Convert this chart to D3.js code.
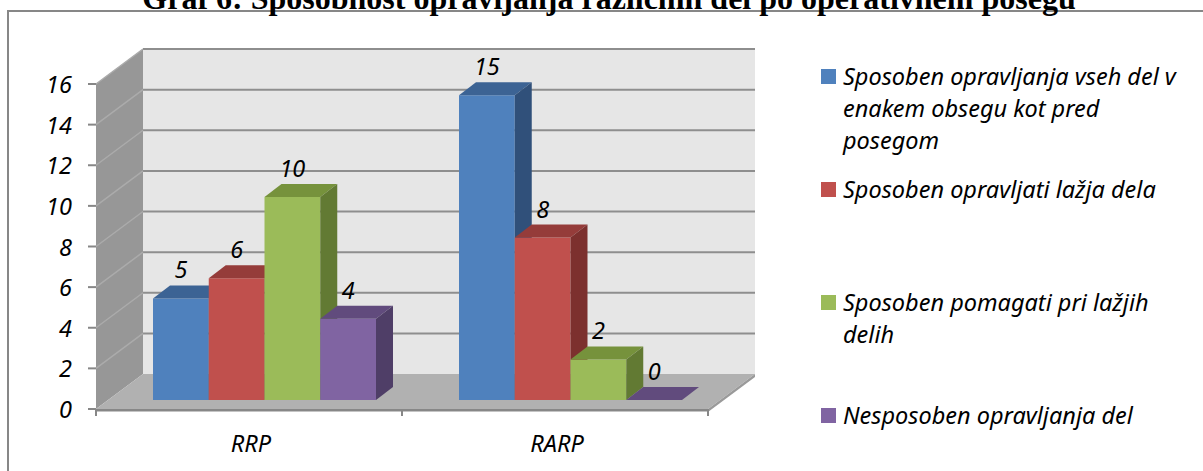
<!DOCTYPE html>
<html>
<head>
<meta charset="utf-8">
<script src="https://cdn.jsdelivr.net/npm/d3@7"></script>
<style>
  html, body { margin: 0; padding: 0; background: #fff; overflow: hidden; }
  svg { display: block; }
  .lbl { font-family: "Noto Sans", "Open Sans", sans-serif; font-style: italic; fill: #000; }
</style>
</head>
<body>
<svg id="chart" width="1203" height="471"></svg>
<script>
// Chart content
const title = "Graf 6: Sposobnost opravljanja različnih del po operativnem posegu";
const categories = ["RRP", "RARP"];
const seriesNames = [
  "Sposoben opravljanja vseh del v enakem obsegu kot pred posegom",
  "Sposoben opravljati lažja dela",
  "Sposoben pomagati pri lažjih delih",
  "Nesposoben opravljanja del"
];
const valuesRRP = [5, 6, 10, 4];
const valuesRARP = [15, 8, 2, 0];
const yTicks = [0, 2, 4, 6, 8, 10, 12, 14, 16];

// Face colours per series: front, top, side
const frontColors = ["#4f81bd", "#c0504d", "#9bbb59", "#8064a2"];
const topColors   = ["#3c6394", "#953c3a", "#76923c", "#614b7d"];
const sideColors  = ["#30507a", "#7c302e", "#627a33", "#4f3e67"];

const svg = d3.select("#chart");
const fontSize = 23.5;

// Outer frame of the chart object
svg.append("rect")
  .attr("x", 8).attr("y", 11).attr("width", 1300).attr("height", 600)
  .attr("fill", "#fff").attr("stroke", "#878787").attr("stroke-width", 2);

// Title (sits just above the frame)
svg.append("text")
  .attr("x", 609).attr("y", 9)
  .attr("text-anchor", "middle")
  .attr("font-family", "'Times New Roman', 'Liberation Serif', serif")
  .attr("font-weight", "bold")
  .attr("font-size", 32)
  .text(title);

// 3D plot geometry
const left = 96, right = 708;
const wallDx = 47, wallDy = -35;    // depth of the floor / side wall
const y = d3.scaleLinear().domain([0, 16]).range([409, 84]);
const x0 = d3.scaleBand().domain(categories).range([left, right]);
const x1 = d3.scaleBand().domain(seriesNames).range([0, 223]);
const groupOffset = 57;             // front face of the first bar inside a category band
const barShiftY = -9;               // bars stand slightly behind the floor's front edge
const barDx = 17, barDy = -13;      // bar depth

const pts = a => a.map(p => p.join(",")).join(" ");

// Back wall
svg.append("polygon")
  .attr("points", pts([[left + wallDx, y(0) + wallDy], [right + wallDx, y(0) + wallDy],
                        [right + wallDx, y(16) + wallDy], [left + wallDx, y(16) + wallDy]]))
  .attr("fill", "#e6e6e6");
// Side wall
svg.append("polygon")
  .attr("points", pts([[left, y(0)], [left + wallDx, y(0) + wallDy],
                        [left + wallDx, y(16) + wallDy], [left, y(16)]]))
  .attr("fill", "#979797");

// Gridlines on the back and side walls
yTicks.filter(t => t > 0).forEach(t => {
  svg.append("line")
    .attr("x1", left + wallDx).attr("x2", right + wallDx)
    .attr("y1", y(t) + wallDy).attr("y2", y(t) + wallDy)
    .attr("stroke", "#8e8e8e").attr("stroke-width", 2);
  svg.append("line")
    .attr("x1", left).attr("x2", left + wallDx)
    .attr("y1", y(t)).attr("y2", y(t) + wallDy)
    .attr("stroke", "#ababab").attr("stroke-width", 1.5);
});

// Floor
svg.append("polygon")
  .attr("points", pts([[left, y(0)], [right, y(0)], [right + wallDx, y(0) + wallDy], [left + wallDx, y(0) + wallDy]]))
  .attr("fill", "#b1b1b1");
svg.append("polygon")
  .attr("points", pts([[left, y(0)], [right, y(0)], [right, y(0) + 3], [left, y(0) + 3]]))
  .attr("fill", "#c4c4c4");
svg.append("polygon")
  .attr("points", pts([[right, y(0)], [right + wallDx, y(0) + wallDy], [right + wallDx, y(0) + wallDy + 3], [right, y(0) + 3]]))
  .attr("fill", "#9a9a9a");

// Axes: value ticks and category line
const axisColor = "#878787";
yTicks.forEach(t => {
  svg.append("line")
    .attr("x1", left - 8).attr("x2", left)
    .attr("y1", y(t)).attr("y2", y(t))
    .attr("stroke", axisColor).attr("stroke-width", 2);
  svg.append("text").attr("class", "lbl")
    .attr("x", 72).attr("y", y(t) + 9)
    .attr("text-anchor", "end").attr("font-size", fontSize)
    .text(t);
});
svg.append("line")
  .attr("x1", left).attr("x2", right).attr("y1", y(0) + 1).attr("y2", y(0) + 1)
  .attr("stroke", axisColor).attr("stroke-width", 2);
[left, x0("RARP"), right].forEach(tx => {
  svg.append("line")
    .attr("x1", tx).attr("x2", tx).attr("y1", y(0)).attr("y2", y(0) + 7)
    .attr("stroke", axisColor).attr("stroke-width", 2);
});
categories.forEach(c => {
  svg.append("text").attr("class", "lbl")
    .attr("x", x0(c) + x0.bandwidth() / 2 + 2).attr("y", 452)
    .attr("text-anchor", "middle").attr("font-size", fontSize)
    .text(c);
});

// Bars (drawn left to right so each bar hides its neighbour's side face)
const groups = [valuesRRP, valuesRARP];
const bars = [];
categories.forEach((c, ci) => {
  seriesNames.forEach((s, si) => {
    const v = groups[ci][si];
    const xl = x0(c) + groupOffset + x1(s);
    const xr = xl + x1.bandwidth();
    const yt = y(v) + barShiftY;
    const yb = y(0) + barShiftY;
    bars.push({ v, xl, xr, yt, yb, si });
  });
});
bars.forEach(b => {
  const g = svg.append("g");
  g.append("polygon")
    .attr("points", pts([[b.xl, b.yb], [b.xr, b.yb], [b.xr, b.yt], [b.xl, b.yt]]))
    .attr("fill", frontColors[b.si]);
  g.append("polygon")
    .attr("points", pts([[b.xl, b.yt], [b.xr, b.yt], [b.xr + barDx, b.yt + barDy], [b.xl + barDx, b.yt + barDy]]))
    .attr("fill", topColors[b.si]);
  g.append("polygon")
    .attr("points", pts([[b.xr, b.yt], [b.xr + barDx, b.yt + barDy], [b.xr + barDx, b.yb + barDy], [b.xr, b.yb]]))
    .attr("fill", sideColors[b.si]);
});

// Value labels
bars.forEach(b => {
  svg.append("text").attr("class", "lbl")
    .attr("x", (b.xl + b.xr) / 2).attr("y", b.yt - 20)
    .attr("text-anchor", "middle").attr("font-size", fontSize)
    .text(b.v);
});

// Legend with wrapped entries
const legendX = 821, legendTextX = 843, legendTop = 69, legendStep = 113, lineH = 32, wrapWidth = 350;
seriesNames.forEach((s, i) => {
  const top = legendTop + i * legendStep;
  svg.append("rect")
    .attr("x", legendX).attr("y", top).attr("width", 15).attr("height", 15)
    .attr("fill", frontColors[i]);
  const t = svg.append("text").attr("class", "lbl").attr("font-size", fontSize)
    .attr("x", legendTextX).attr("y", top + 16);
  const words = s.split(" ");
  let line = [];
  let tspan = t.append("tspan").attr("x", legendTextX).attr("dy", 0);
  words.forEach(w => {
    line.push(w);
    tspan.text(line.join(" "));
    if (tspan.node().getComputedTextLength() > wrapWidth && line.length > 1) {
      line.pop();
      tspan.text(line.join(" "));
      line = [w];
      tspan = t.append("tspan").attr("x", legendTextX).attr("dy", lineH).text(w);
    }
  });
});
</script>
</body>
</html>
